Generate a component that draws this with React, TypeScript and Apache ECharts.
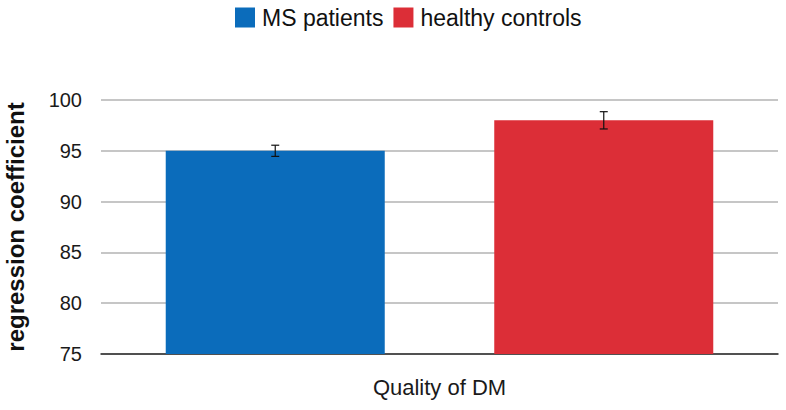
import React, { useEffect, useRef } from "react";
import * as echarts from "echarts";

const categories = ["Quality of DM"];
const seriesNames = ["MS patients", "healthy controls"];
const msValues = [95.0];
const hcValues = [98.0];
const msErrors = [0.55];
const hcErrors = [0.85];
const colors = ["#0b6cbb", "#dc2e37"];
const yTicks = { min: 75, max: 100, interval: 5 };

const BAR_FRAC = 0.3235;
const GAP_FRAC = 0.5;

export default function App() {
  const ref = useRef<HTMLDivElement>(null);
  useEffect(() => {
    if (!ref.current) return;
    const chart = echarts.init(ref.current, null, { renderer: "svg" });
    const errData: number[][] = [];
    categories.forEach((_, i) => {
      errData.push([i, msValues[i] - msErrors[i], msValues[i] + msErrors[i], 0]);
      errData.push([i, hcValues[i] - hcErrors[i], hcValues[i] + hcErrors[i], 1]);
    });
    const font = "'Liberation Sans', Arial, sans-serif";
    chart.setOption({
      animation: false,
      textStyle: { fontFamily: font },
      legend: {
        top: 1,
        left: 230,
        itemWidth: 20,
        itemHeight: 20,
        itemGap: 10,
        icon: "rect",
        textStyle: { fontSize: 23, color: "#111", fontFamily: font, padding: [0, 0, 0, 2] },
        data: seriesNames,
      },
      grid: { left: 101, right: 8, top: 100, bottom: 56, outerBoundsMode: "none", containLabel: false },
      xAxis: {
        type: "category",
        data: categories,
        axisTick: { show: false },
        axisLine: { lineStyle: { color: "#2a2a2a", width: 1.5 } },
        axisLabel: { fontSize: 22, color: "#1a1a1a", margin: 22, fontFamily: font },
      },
      yAxis: {
        type: "value",
        min: yTicks.min,
        max: yTicks.max,
        interval: yTicks.interval,
        axisLine: { show: false },
        axisTick: { show: false },
        splitLine: { lineStyle: { color: "#b3b3b3", width: 1.5 } },
        axisLabel: { fontSize: 20, color: "#1a1a1a", margin: 19, fontFamily: font },
        name: "regression coefficient",
        nameLocation: "middle",
        nameGap: 74,
        nameTextStyle: { fontSize: 24, fontWeight: "bold", color: "#111", fontFamily: font },
      },
      series: [
        {
          name: seriesNames[0],
          type: "bar",
          data: msValues,
          barWidth: (BAR_FRAC * 100).toFixed(2) + "%",
          barGap: GAP_FRAC * 100 + "%",
          itemStyle: { color: colors[0] },
        },
        {
          name: seriesNames[1],
          type: "bar",
          data: hcValues,
          barWidth: (BAR_FRAC * 100).toFixed(2) + "%",
          barGap: GAP_FRAC * 100 + "%",
          itemStyle: { color: colors[1] },
        },
        {
          type: "custom",
          name: "err",
          data: errData,
          z: 10,
          renderItem: (params: any, api: any) => {
            const cat = api.value(0);
            const lo = api.coord([cat, api.value(1)]);
            const hi = api.coord([cat, api.value(2)]);
            const band = api.size([1, 0])[0];
            const off = band * BAR_FRAC * (1 + GAP_FRAC) / 2;
            const x = lo[0] + (api.value(3) === 0 ? -off : off);
            const cap = 4;
            const style = { stroke: "#111", lineWidth: 1.2 };
            return {
              type: "group",
              children: [
                { type: "line", shape: { x1: x, y1: lo[1], x2: x, y2: hi[1] }, style },
                { type: "line", shape: { x1: x - cap, y1: lo[1], x2: x + cap, y2: lo[1] }, style },
                { type: "line", shape: { x1: x - cap, y1: hi[1], x2: x + cap, y2: hi[1] }, style },
              ],
            };
          },
        },
      ],
    });
    return () => chart.dispose();
  }, []);
  return (
    <div
      ref={ref}
      style={{ position: "absolute", left: 0, top: 0, width: 786, height: 410, background: "#fff" }}
    />
  );
}
